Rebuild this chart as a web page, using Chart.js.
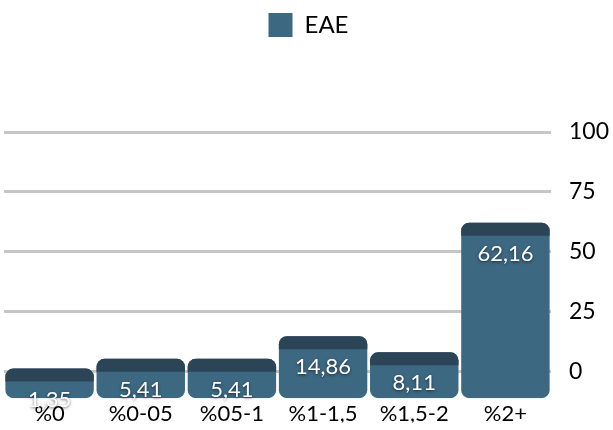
<!DOCTYPE html>
<html>
<head>
<meta charset="utf-8">
<script src="https://cdn.jsdelivr.net/npm/chart.js@4"></script>
<style>
  html, body { margin: 0; padding: 0; background: #fff; }
  #wrap { width: 613px; height: 430px; position: relative; }
</style>
</head>
<body>
<div id="wrap"><canvas id="c"></canvas></div>
<script>
const categories = ['%0', '%0-05', '%05-1', '%1-1,5', '%1,5-2', '%2+'];
const eaeValues = [1.35, 5.41, 5.41, 14.86, 8.11, 62.16];
const yTicks = [0, 25, 50, 75, 100];

const fmt = (v) => v.toFixed(2).replace('.', ',');

// leave empty room under the legend, like the original slide
const legendGap = {
  id: 'legendGap',
  afterInit(chart) {
    const lg = chart.legend;
    const fit = lg.fit;
    lg.fit = function () {
      fit.call(this);
      this.height += 85;
    };
  }
};

// dark top face + white value labels on each bar
const barDecor = {
  id: 'barDecor',
  afterDatasetsDraw(chart) {
    const ctx = chart.ctx;
    const meta = chart.getDatasetMeta(0);
    meta.data.forEach((bar, i) => {
      const w = bar.width;
      const left = bar.x - w / 2;
      ctx.save();
      ctx.fillStyle = '#2b4557';
      ctx.beginPath();
      ctx.roundRect(left, bar.y, w, 13, [8, 8, 0, 0]);
      ctx.fill();
      ctx.font = '22px Lato';
      ctx.fillStyle = '#fff';
      ctx.textAlign = 'center';
      ctx.textBaseline = 'middle';
      ctx.shadowColor = 'rgba(0,0,0,0.6)';
      ctx.shadowBlur = 3;
      ctx.shadowOffsetY = 1;
      ctx.fillText(fmt(eaeValues[i]), bar.x, bar.y + 31);
      ctx.restore();
    });
  }
};

new Chart(document.getElementById('c'), {
  type: 'bar',
  data: {
    labels: categories,
    datasets: [{
      label: 'EAE',
      data: eaeValues,
      base: -11,
      backgroundColor: '#3d6882',
      borderRadius: 8,
      borderSkipped: false,
      barPercentage: 0.97,
      categoryPercentage: 1.0
    }]
  },
  options: {
    responsive: true,
    maintainAspectRatio: false,
    animation: false,
    layout: { padding: { left: 4, top: 0, right: 0, bottom: 0 } },
    plugins: {
      legend: {
        position: 'top',
        labels: {
          boxWidth: 24,
          boxHeight: 24,
          padding: 13,
          color: '#000',
          font: { family: 'Lato', size: 24 }
        }
      },
      tooltip: { enabled: false }
    },
    scales: {
      x: {
        z: 1,
        grid: { display: false },
        border: { display: false },
        ticks: { color: '#000', font: { family: 'Lato', size: 22 }, padding: -5 }
      },
      y: {
        position: 'right',
        min: -11,
        max: 100,
        afterBuildTicks(axis) {
          axis.ticks = yTicks.map(v => ({ value: v }));
        },
        afterFit(axis) { axis.width = 62; },
        grid: { color: '#c6c6c6', lineWidth: 3, drawTicks: false },
        border: { display: false },
        ticks: { color: '#000', font: { family: 'Lato', size: 23 }, padding: 18 }
      }
    }
  },
  plugins: [legendGap, barDecor]
});
</script>
</body>
</html>
